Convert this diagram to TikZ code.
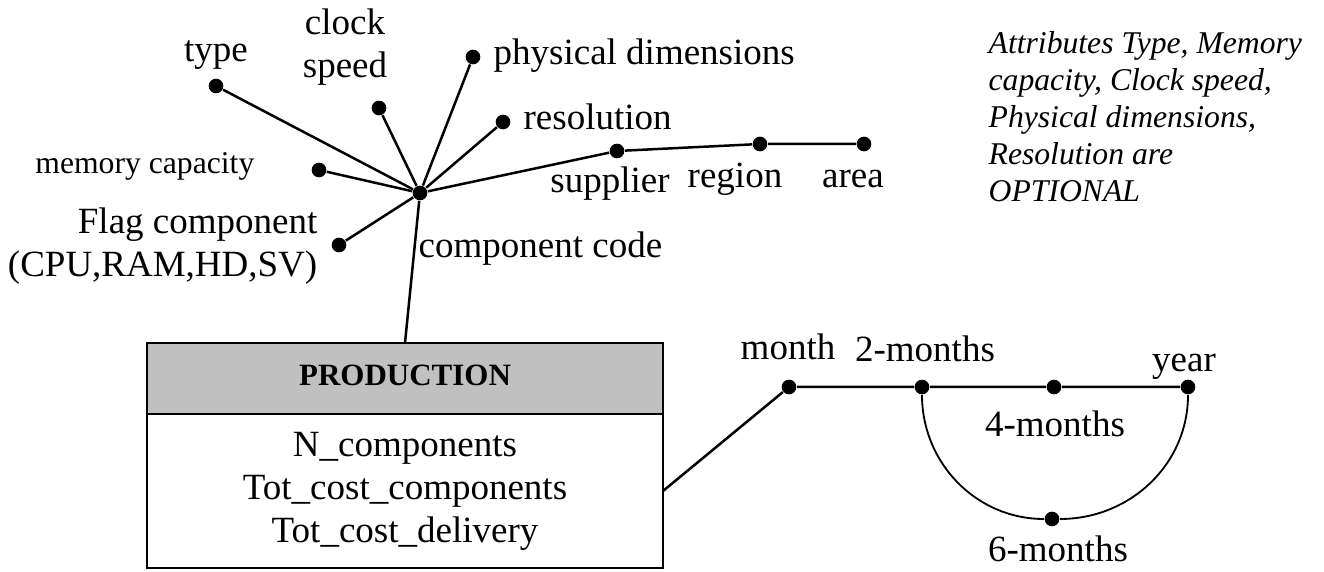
\documentclass[tikz,border=0pt]{standalone}
\usepackage{fontspec}
\setmainfont{Liberation Serif}
\usetikzlibrary{positioning}
\definecolor{HeadGray}{HTML}{C0C0C0}
\tikzset{
  dot/.style={circle, fill=black, inner sep=0pt, minimum size=4.4pt},
  edge/.style={line width=0.75pt},
  thinedge/.style={line width=0.55pt},
  lbl/.style={inner sep=0pt, font=\fontsize{11.1}{12.9}\selectfont},
  smalllbl/.style={inner sep=0pt, font=\fontsize{9.5}{11.1}\selectfont},
  note/.style={inner sep=0pt, align=left, font=\fontsize{9.5}{11.1}\selectfont\itshape},
  hdr/.style={draw, line width=0.6pt, outer sep=0pt, fill=HeadGray, minimum width=154.8pt, minimum height=21.3pt, inner sep=0pt, text depth=2pt, font=\fontsize{9.3}{11}\selectfont\bfseries},
  facts/.style={draw, line width=0.6pt, outer sep=0pt, fill=white, minimum width=154.8pt, minimum height=46.2pt, inner sep=0pt, align=center, font=\fontsize{11.1}{12.9}\selectfont}
}

\begin{document}
\begin{tikzpicture}[x=0.3pt, y=0.3pt]
  \useasboundingbox (0,0) rectangle (1324,572);

  % fact table
  \node[hdr] (prod) at (405,193.5) {PRODUCTION};
  \node[facts, below=0pt of prod] (prodfacts) {N\_components\\Tot\_cost\_components\\Tot\_cost\_delivery};

  % component hierarchy
  \node[dot] (cc) at (420,379) {};
  \node[dot] (type) at (216,486) {};
  \node[dot] (clock) at (379,464) {};
  \node[dot] (memcap) at (319,402) {};
  \node[dot] (flag) at (339,327) {};
  \node[dot] (physdim) at (473,515) {};
  \node[dot] (resol) at (503,450) {};
  \node[dot] (supplier) at (617,421) {};
  \node[dot] (region) at (760,428) {};
  \node[dot] (area) at (864,428) {};

  % multi-line labels sit on their last baseline
  \node[lbl, anchor=base west] (cc-l) at (418,314) {component code};
  \node[lbl, anchor=base] (type-l) at (216,510) {type};
  \node[lbl, anchor=base, align=center] (clock-l) at (345,494) {clock\\speed};
  \node[smalllbl, anchor=base east] (memcap-l) at (255,398) {memory capacity};
  \node[lbl, anchor=base east, align=right] (flag-l) at (318,295) {Flag component\\(CPU,RAM,HD,SV)};
  \node[lbl, anchor=base west] (physdim-l) at (493,507) {physical dimensions};
  \node[lbl, anchor=base west] (resol-l) at (523,442) {resolution};
  \node[lbl, anchor=base] (supplier-l) at (610,379) {supplier};
  \node[lbl, anchor=base] (region-l) at (735,384) {region};
  \node[lbl, anchor=base] (area-l) at (853,384) {area};

  \draw[edge] (prod.north) -- (cc);
  \foreach \a in {type, clock, memcap, flag, physdim, resol}
    \draw[edge] (cc) -- (\a);
  \draw[edge] (cc) -- (supplier) -- (region) -- (area);

  % time hierarchy
  \node[dot] (month) at (789,185) {};
  \node[dot] (twomonths) at (922,185) {};
  \node[dot] (fourmonths) at (1054,185) {};
  \node[dot] (year) at (1188,185) {};
  \node[dot] (sixmonths) at (1052,53) {};

  \node[lbl, anchor=base] (month-l) at (788,212) {month};
  \node[lbl, anchor=base] (twomonths-l) at (925,210) {2-months};
  \node[lbl, anchor=base] (year-l) at (1184,200) {year};
  \node[lbl, anchor=base] (fourmonths-l) at (1055,135) {4-months};
  \node[lbl, anchor=base] (sixmonths-l) at (1058,10) {6-months};

  \draw[edge] (prodfacts.east) -- (month) -- (twomonths) -- (fourmonths) -- (year);
  \draw[thinedge] (twomonths) to[out=-90, in=180] (sixmonths) to[out=0, in=-90] (year);

  \node[note, anchor=base west] (optnote) at (988,370) {Attributes Type, Memory\\capacity, Clock speed,\\Physical dimensions,\\Resolution are\\OPTIONAL};
\end{tikzpicture}
\end{document}
